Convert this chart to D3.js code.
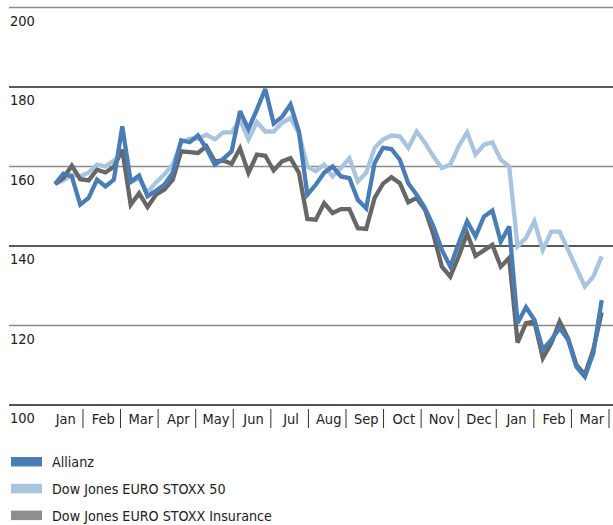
<!DOCTYPE html>
<html>
<head>
<meta charset="utf-8">
<script src="https://cdn.jsdelivr.net/npm/d3@7"></script>
<style>
  html, body { margin: 0; padding: 0; background: #fff; }
  svg { display: block; }
  text { font-family: "DejaVu Sans Condensed", "Liberation Sans Narrow", "Liberation Sans", sans-serif; fill: #222; }
</style>
</head>
<body>
<svg id="chart" width="613" height="525"></svg>
<script>
const months = ["Jan","Feb","Mar","Apr","May","Jun","Jul","Aug","Sep","Oct","Nov","Dec","Jan","Feb","Mar"];
const yTicks = [100, 120, 140, 160, 180, 200];

const allianz = [155.6,158.2,157.5,150.4,152.1,156.7,155.0,156.7,170.1,156.2,157.7,152.5,153.9,155.4,158.4,166.6,
  166.1,167.8,164.6,160.5,161.9,163.8,173.9,169.4,174.3,179.5,170.8,172.5,175.6,168.8,152.9,155.4,
  158.4,160.0,157.5,157.1,151.6,149.5,160.9,164.7,164.4,161.7,155.8,152.9,149.5,144.9,139.0,134.8,
  140.7,146.2,142.4,147.4,148.9,141.1,144.9,120.6,124.6,121.4,113.9,116.4,119.3,116.4,109.6,107.1,
  113.0,126.4];
const stoxx50 = [155.6,156.5,158.0,157.5,158.5,160.5,160.0,161.5,163.5,156.0,157.0,153.5,156.0,158.0,160.5,166.0,
  167.0,167.0,168.0,166.8,168.6,168.6,171.8,166.8,171.2,168.8,168.8,171.0,172.2,168.4,160.0,158.8,
  160.5,157.5,159.6,162.1,156.2,158.4,164.7,166.8,167.8,167.6,164.7,168.8,165.9,162.5,159.6,160.5,
  165.1,168.6,163.0,165.5,166.1,161.7,160.0,139.9,142.0,146.2,139.0,143.6,143.6,139.0,134.4,129.8,
  132.3,137.4];
const insurance = [155.6,157.1,160.2,156.8,156.5,159.2,158.5,159.9,164.2,150.4,153.3,149.8,152.9,154.2,156.7,163.8,
  163.6,163.4,165.1,161.3,161.5,160.7,164.6,158.4,163.0,162.7,159.0,161.3,162.1,158.4,146.8,146.6,
  150.8,148.3,149.3,149.3,144.5,144.3,152.1,155.7,157.3,155.8,151.0,152.1,149.1,142.8,134.8,132.3,
  137.4,143.2,137.5,138.9,140.3,134.8,137.0,115.7,120.6,121.0,111.8,115.5,121.0,116.8,110.1,107.6,
  113.9,123.3];

const seriesNames = ["Allianz", "Dow Jones EURO STOXX 50", "Dow Jones EURO STOXX Insurance"];
const lineColors = ["#4a7db4", "#a9c4de", "#676767"];
const swatchColors = ["#4a7db4", "#a9c4de", "#8e8e8e"];

const svg = d3.select("#chart");

const y = d3.scaleLinear().domain([100, 200]).range([405, 7.5]);
const xMonth = d3.scaleLinear().domain([0, months.length]).range([45.4, 609]);
const xIdx = d3.scaleLinear().domain([0, allianz.length - 1]).range([55, 601.7]);

// gridlines
const gridColor = v => (v === 100 ? "#555" : ((v / 20) % 2 === 1 ? "#222" : "#8a8a8a"));
svg.append("g").selectAll("line").data(yTicks).join("line")
  .attr("x1", 9).attr("x2", 613)
  .attr("y1", d => y(d)).attr("y2", d => y(d))
  .attr("stroke", d => gridColor(d))
  .attr("stroke-width", d => d === 100 ? 2 : 1.5);

svg.append("g").selectAll("text").data(yTicks).join("text")
  .attr("x", 10).attr("y", d => y(d) + 18)
  .attr("font-size", 14.5)
  .text(d => d);

// month labels & separators
svg.append("g").selectAll("text").data(months).join("text")
  .attr("x", (d, i) => (xMonth(i) + xMonth(i + 1)) / 2 + 1.5)
  .attr("y", 423.5)
  .attr("text-anchor", "middle")
  .attr("font-size", 14.5)
  .text(d => d);

svg.append("g").selectAll("line").data(d3.range(1, months.length + 1)).join("line")
  .attr("x1", d => xMonth(d)).attr("x2", d => xMonth(d))
  .attr("y1", 409).attr("y2", 428)
  .attr("stroke", "#333").attr("stroke-width", 1);

// lines
const line = d3.line().x((d, i) => xIdx(i)).y(d => y(d));
const drawOrder = [[stoxx50, 1], [insurance, 2], [allianz, 0]];
svg.append("g").selectAll("path").data(drawOrder).join("path")
  .attr("d", d => line(d[0]))
  .attr("fill", "none")
  .attr("stroke", d => lineColors[d[1]])
  .attr("stroke-width", 4.3)
  .attr("stroke-linejoin", "miter")
  .attr("stroke-miterlimit", 3);

// legend
const leg = svg.append("g").selectAll("g").data(seriesNames).join("g")
  .attr("transform", (d, i) => `translate(0, ${457 + i * 26.8})`);
leg.append("rect").attr("x", 11).attr("y", 0).attr("width", 31).attr("height", 9.5)
  .attr("fill", (d, i) => swatchColors[i]);
leg.append("text").attr("x", 52).attr("y", 10).attr("font-size", 14.2).text(d => d);
</script>
</body>
</html>
